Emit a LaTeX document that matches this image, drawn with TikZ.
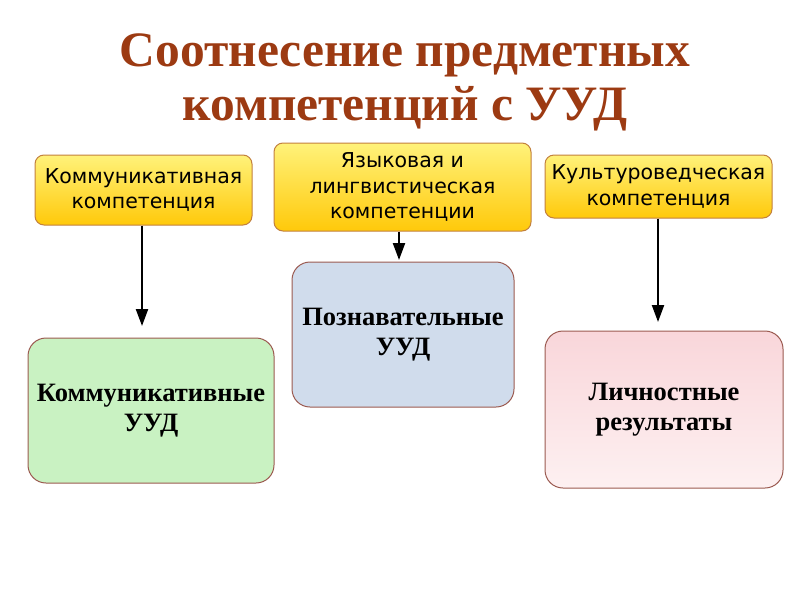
\documentclass[tikz,border=0pt]{standalone}
\usepackage{fontspec}
\setmainfont{Liberation Serif}
\newfontfamily\boxfont{DejaVu Sans}
\usetikzlibrary{arrows.meta}
\definecolor{titlec}{HTML}{9C3A12}
\definecolor{yelTop}{HTML}{FFF27A}
\definecolor{yelBot}{HTML}{FFC90A}
\definecolor{yelBorder}{HTML}{C2803E}
\definecolor{boxBorder}{HTML}{9B5A50}
\definecolor{greenFill}{HTML}{C9F2C2}
\definecolor{blueFill}{HTML}{D0DCEC}
\definecolor{pinkTop}{HTML}{F9D6DA}
\definecolor{pinkBot}{HTML}{FDF0F1}
\tikzset{
  compbox/.style={draw=yelBorder, line width=1pt, rounded corners=9pt,
    top color=yelTop, bottom color=yelBot, align=center, inner sep=0pt,
    font=\boxfont\fontsize{20.5}{25.5}\selectfont, text=black},
  uudbox/.style={draw=boxBorder, line width=1pt, rounded corners=18pt,
    align=center, inner sep=0pt, font=\bfseries\fontsize{26.5}{30}\selectfont, text=black},
  link/.style={line width=2.2pt, -{Triangle[width=12pt,length=17pt]}}
}
\begin{document}
\begin{tikzpicture}[x=1pt,y=-1pt]
\useasboundingbox (0,0) rectangle (800,600);
\node[text=titlec, font=\bfseries\fontsize{49.5}{54}\selectfont, align=center] (title) at (405,82)
  {Соотнесение предметных\\компетенций с УУД};
\node[compbox, minimum width=217pt, minimum height=70pt] (a) at (143.5,190) {Коммуникативная\\компетенция};
\node[compbox, minimum width=257pt, minimum height=88pt] (b) at (402.5,187) {Языковая и\\лингвистическая\\компетенции};
\node[compbox, minimum width=227pt, minimum height=63pt] (c) at (658.5,186.5) {Культуроведческая\\компетенция};
\node[uudbox, fill=greenFill, minimum width=246pt, minimum height=145pt] (g) at (151,410.5) {Коммуникативные\\УУД};
\node[uudbox, fill=blueFill, minimum width=222pt, minimum height=145pt] (bl) at (403,334.5) {Познавательные\\УУД};
\node[uudbox, top color=pinkTop, bottom color=pinkBot, minimum width=238pt, minimum height=157pt] (p) at (664,409.5) {Личностные\\результаты};
\coordinate (ga) at (142,326);
\coordinate (ba) at (399,260);
\coordinate (ca) at (658,322);
\draw[link] (a.south -| ga) -- (ga);
\draw[link] (b.south -| ba) -- (ba);
\draw[link] (c.south -| ca) -- (ca);
\end{tikzpicture}
\end{document}
